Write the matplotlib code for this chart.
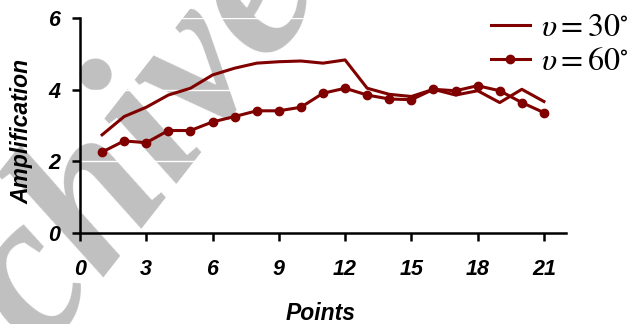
import matplotlib
matplotlib.use("Agg")
import matplotlib.pyplot as plt

# data
points = list(range(1, 22))
amp_30 = [2.74, 3.25, 3.51, 3.85, 4.04, 4.41, 4.60, 4.74, 4.78, 4.80, 4.74,
          4.83, 4.04, 3.87, 3.81, 4.01, 3.85, 3.97, 3.64, 4.01, 3.67]
amp_60 = [2.26, 2.57, 2.52, 2.86, 2.86, 3.10, 3.25, 3.41, 3.41, 3.51, 3.90,
          4.04, 3.85, 3.74, 3.72, 4.01, 3.97, 4.11, 3.97, 3.64, 3.36]
xticks = [0, 3, 6, 9, 12, 15, 18, 21]
yticks = [0, 2, 4, 6]

red = "#800000"
plt.rcParams["mathtext.fontset"] = "stix"
tick_font = dict(family="Liberation Sans", weight="bold", style="italic", size=15.5)
label_font = dict(family="Liberation Sans", weight="bold", style="italic", size=16.5)

fig = plt.figure(figsize=(6.31, 3.24), dpi=100)
ax = fig.add_axes([80 / 631, 1 - 233 / 324, 486 / 631, 215 / 324])
ax.patch.set_visible(False)

# faint watermark behind the axes
fig.text(-0.14, -0.66, "Archive", family="Liberation Serif", style="italic",
         weight="bold", size=152, color="#c0c0c0", rotation=52,
         rotation_mode="anchor", ha="left", va="baseline", zorder=-1)

ax.plot(points, amp_30, color=red, lw=2.2, label=r"$\upsilon = \mathit{30}^{\circ}$", zorder=3)
ax.plot(points, amp_60, color=red, lw=2.2, marker="o", ms=6,
        label=r"$\upsilon = \mathit{60}^{\circ}$", zorder=3)

ax.set_xlim(0, 22)
ax.set_ylim(0, 6)
ax.set_xticks(xticks)
ax.set_yticks(yticks)
ax.set_xticklabels([str(t) for t in xticks], fontdict=tick_font)
ax.set_yticklabels([str(t) for t in yticks], fontdict=tick_font)
ax.tick_params(direction="out", length=6, width=1.8)
ax.tick_params(axis="x", pad=13)
ax.tick_params(axis="y", pad=8)
ax.yaxis.grid(True, color="white", lw=1)
ax.set_axisbelow(True)

for s in ("top", "right"):
    ax.spines[s].set_visible(False)
for s in ("left", "bottom"):
    ax.spines[s].set_linewidth(1.8)
ax.spines["bottom"].set_bounds(0, 22)

ax.set_xlabel("Points", fontdict=label_font)
ax.set_ylabel("Amplification", fontdict=label_font)
ax.xaxis.set_label_coords(0.496, -0.32)
ax.yaxis.set_label_coords(-0.095, 0.474)

leg = fig.legend(loc="upper left", bbox_to_anchor=(472 / 631, 1.022),
                 frameon=False, handlelength=1.2, handletextpad=0.37,
                 labelspacing=0.1, borderaxespad=0.2,
                 prop=dict(size=23))

fig.savefig("out.png", dpi=100)
